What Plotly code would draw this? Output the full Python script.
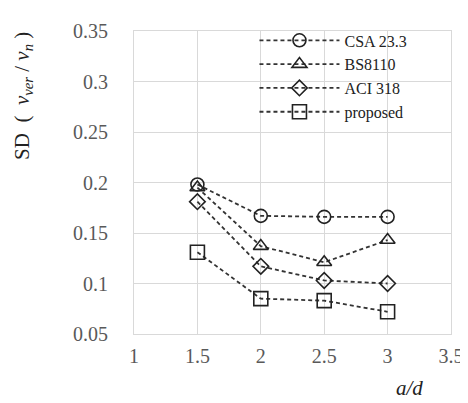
import plotly.graph_objects as go

ad = [1.5, 2, 2.5, 3]
csa = [0.198, 0.167, 0.166, 0.166]
bs = [0.195, 0.137, 0.121, 0.143]
aci = [0.181, 0.117, 0.103, 0.100]
proposed = [0.131, 0.085, 0.083, 0.072]
names = ["CSA 23.3", "BS8110", "ACI 318", "proposed"]
symbols = ["circle-open", "triangle-up-open", "diamond-open", "square-open"]
sizes = [13, 13, 12, 14]

fig = go.Figure()
for name, vals, sym, sz in zip(names, [csa, bs, aci, proposed], symbols, sizes):
    fig.add_trace(go.Scatter(
        x=ad, y=vals, name=name, mode="lines+markers",
        line=dict(color="#333333", width=1.8, dash="4px,3px"),
        marker=dict(symbol=sym, size=sz, color="#222222", line=dict(color="#222222", width=1.6)),
    ))

font = "Liberation Serif"
fig.update_layout(
    width=468, height=403,
    margin=dict(l=126, r=15, t=17, b=77),
    plot_bgcolor="white", paper_bgcolor="white",
    font=dict(family=font, size=18, color="#595959"),
    showlegend=True,
    legend=dict(x=0.38, y=1.025, xanchor="left", yanchor="top",
                bgcolor="rgba(0,0,0,0)", font=dict(family=font, size=16, color="#222222"),
                itemwidth=80, tracegroupgap=0),
    xaxis=dict(range=[1, 3.5], dtick=0.5, showgrid=True, gridcolor="#d9d9d9",
               showline=True, linecolor="#d9d9d9", mirror=True, zeroline=False,
               tickfont=dict(family=font, size=20, color="#595959"), ticks="", ticklabelstandoff=4),
    yaxis=dict(range=[0.05, 0.35], showgrid=True, gridcolor="#d9d9d9",
               showline=True, linecolor="#d9d9d9", mirror=True, zeroline=False,
               tickvals=[0.05, 0.1, 0.15, 0.2, 0.25, 0.3, 0.35],
               ticktext=["0.05", "0.1", "0.15", "0.2", "0.25", "0.3", "0.35"],
               tickfont=dict(family=font, size=20, color="#595959"), ticks="",
               ticklabelstandoff=21),
)
fig.add_annotation(x=-0.352, y=0.787, xref="paper", yref="paper", textangle=-90,
                   xanchor="center", yanchor="middle",
                   text="SD\u00a0\u00a0(\u00a0\u00a0<i>v</i><sub><i>ver</i></sub>\u00a0/\u00a0<i>v</i><sub><i>n</i></sub>\u00a0)",
                   showarrow=False, font=dict(family=font, size=21, color="#222222"))
fig.add_annotation(x=0.869, y=-0.178, xref="paper", yref="paper", text="<i>a/d</i>",
                   xanchor="center", yanchor="middle",
                   showarrow=False, font=dict(family=font, size=21, color="#222222"))
fig.write_html("out.html")
